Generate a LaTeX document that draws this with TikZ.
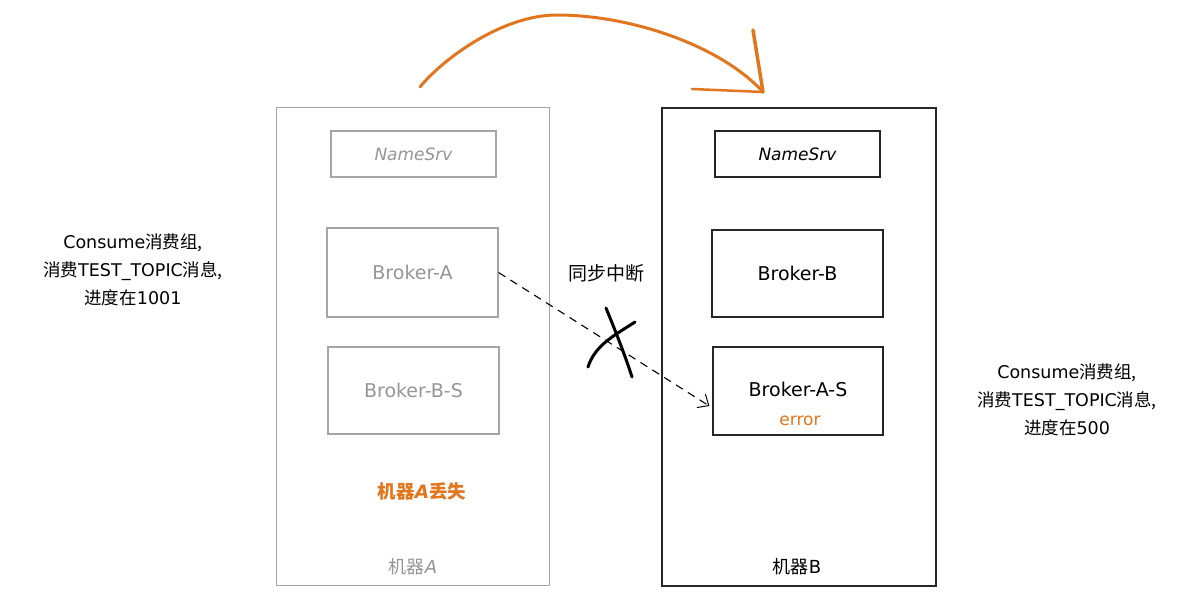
\documentclass[tikz,border=0pt]{standalone}
\usepackage{fontspec}
\setmainfont{DejaVu Sans}
\newfontfamily\zhfont{Noto Sans CJK SC}
\newcommand\zh[1]{{\zhfont #1}}
\usetikzlibrary{arrows.meta,calc}
\definecolor{orng}{RGB}{226,118,30}
\definecolor{greyA}{RGB}{150,150,150}
\definecolor{greyline}{RGB}{165,165,165}
\begin{document}
\begin{tikzpicture}[x=1pt,y=-1pt,
  machA/.style={draw=greyline,line width=1.2pt,anchor=north west,inner sep=0pt},
  machB/.style={draw=black!85,line width=1.5pt,anchor=north west,inner sep=0pt},
  boxA/.style={draw=greyline,line width=1.2pt,text=greyA,font=\fontsize{19}{22}\selectfont,inner sep=0pt},
  boxB/.style={draw=black!85,line width=1.3pt,text=black,font=\fontsize{19}{22}\selectfont,inner sep=0pt},
  nstxt/.style={font=\itshape\fontsize{17}{20}\selectfont},
  lbl/.style={font=\fontsize{17.5}{28}\selectfont,align=center,inner sep=0pt},
  orgtxt/.style={text=orng,font=\bfseries\fontsize{18.5}{22}\selectfont,inner sep=0pt}]
\useasboundingbox[fill=white] (0,0) rectangle (1197,611);
% machines
\node[machA,minimum width=273pt,minimum height=478pt] (MA) at (276,107) {};
\node[machB,minimum width=274pt,minimum height=478pt] (MB) at (661,107) {};
% machine A boxes
\node[boxA,nstxt,minimum width=165pt,minimum height=46pt] (NSA) at (413.5,154) {NameSrv};
\node[boxA,minimum width=171pt,minimum height=89pt] (BA) at (412.5,272.5) {Broker-A};
\node[boxA,minimum width=171pt,minimum height=87pt] (BBS) at (413.5,390.5) {Broker-B-S};
\node[orgtxt] (lostA) at (422,491) {\zh{\bfseries 机器}\textit{A}\zh{\bfseries 丢失}};
\node[text=greyA,font=\fontsize{18}{20}\selectfont,inner sep=0pt] (labA) at (413,567) {\zh{机器}\textit{A}};
% machine B boxes
\node[boxB,nstxt,minimum width=165pt,minimum height=46pt] (NSB) at (797.5,154) {NameSrv};
\node[boxB,minimum width=171pt,minimum height=87pt] (BB) at (797.5,273.5) {Broker-B};
\node[boxB,minimum width=170pt,minimum height=88pt] (BAS) at (798,391) {};
\node[font=\fontsize{19}{22}\selectfont,inner sep=0pt] (BAStxt) at (798,389) {Broker-A-S};
\node[text=orng,font=\fontsize{17}{18}\selectfont,inner sep=0pt] (err) at (800,421) {error};
\node[font=\fontsize{18}{20}\selectfont,inner sep=0pt] (labB) at (797,567) {\zh{机器}B};
% side labels
\node[lbl] (left) at (133,270) {Consume\zh{消费组,}\\\zh{消费}TEST\_TOPIC\zh{消息,}\\\zh{进度在}1001};
\node[lbl] (right) at (1067,400) {Consume\zh{消费组,}\\\zh{消费}TEST\_TOPIC\zh{消息,}\\\zh{进度在}500};
\node[font=\fontsize{19}{22}\selectfont,inner sep=0pt] (sync) at (606,273) {\zh{同步中断}};
% dashed connector
\coordinate (dend) at ($(BAS.west)+(-3,15)$);
\draw[dashed,dash pattern=on 8pt off 6pt,line width=1.1pt,-{Straight Barb[length=9pt,width=16pt,line width=1pt]}] (BA.east) -- (dend);
% X mark
\draw[line width=3pt,line cap=round] (606,308) .. controls (615,330) and (625,355) .. (632,377);
\draw[line width=3pt,line cap=round] (635,322) .. controls (615,335) and (595,345) .. (588,367);
% orange arc
\coordinate (arcS) at (420,87);
\coordinate (arcE) at (763,92);
\draw[orng,line width=3pt,line cap=round] (arcS) .. controls (440,62) and (500,15) .. (557,15) .. controls (630,15) and (720,45) .. (arcE);
\draw[orng,line width=3.5pt,line cap=round] (753,30) -- (arcE);
\draw[orng,line width=2.5pt,line cap=round] (692,89) -- (arcE);
\end{tikzpicture}
\end{document}
